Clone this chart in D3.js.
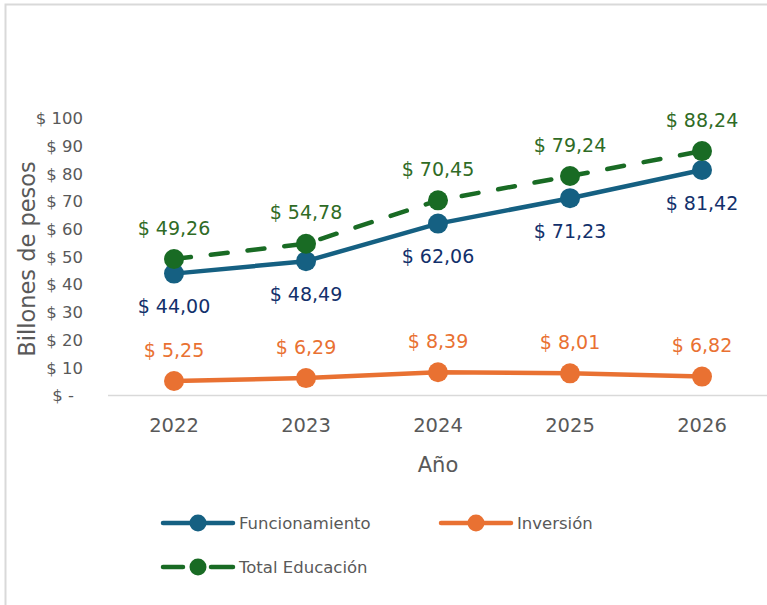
<!DOCTYPE html>
<html>
<head>
<meta charset="utf-8">
<script src="https://cdn.jsdelivr.net/npm/d3@7"></script>
<style>
  body { margin: 0; background: #fff; }
  text { font-family: "DejaVu Sans", sans-serif; }
</style>
</head>
<body>
<div id="chart"></div>
<script>
let years          = ['2022', '2023', '2024', '2025', '2026'];
let funcionamiento = [44.00, 48.49, 62.06, 71.23, 81.42];
let inversion      = [5.25, 6.29, 8.39, 8.01, 6.82];
let total          = [49.26, 54.78, 70.45, 79.24, 88.24];
let yTicks         = [0, 10, 20, 30, 40, 50, 60, 70, 80, 90, 100];

let w = 767, h = 605;
let svg = d3.select('#chart').append('svg').attr('width', w).attr('height', h);

// chart frame
svg.append('rect').attr('x', 5.5).attr('y', 4.5).attr('width', w + 10).attr('height', h + 10)
  .attr('fill', 'none').attr('stroke', '#d9d9d9').attr('stroke-width', 2);

let x = d3.scaleBand().domain(years).range([108, 768]);
let y = d3.scaleLinear().domain([0, 100]).range([395.5, 118.5]);
let cx = d => x(d) + x.bandwidth() / 2;

let fmt = v => '$ ' + v.toFixed(2).replace('.', ',');

// axis baseline
svg.append('line').attr('x1', 108).attr('x2', 768).attr('y1', y(0)).attr('y2', y(0))
  .attr('stroke', '#d9d9d9').attr('stroke-width', 1.5);

// y tick labels
svg.append('g').selectAll('text').data(yTicks).join('text')
  .attr('x', d => d === 0 ? 74 : 83)
  .attr('y', d => y(d))
  .attr('dy', '0.35em')
  .attr('text-anchor', 'end')
  .attr('font-size', 16.5)
  .attr('fill', '#595959')
  .text(d => d === 0 ? '$ -' : '$ ' + d);

// x tick labels
svg.append('g').selectAll('text').data(years).join('text')
  .attr('x', cx).attr('y', 425).attr('dy', '0.35em')
  .attr('text-anchor', 'middle').attr('font-size', 19.5).attr('fill', '#595959')
  .text(d => d);

// axis titles
svg.append('text').attr('x', 438).attr('y', 465).attr('dy', '0.35em')
  .attr('text-anchor', 'middle').attr('font-size', 21).attr('fill', '#595959').text('Año');
svg.append('text').attr('transform', 'translate(27,259) rotate(-90)').attr('dy', '0.35em')
  .attr('text-anchor', 'middle').attr('font-size', 22.5).attr('fill', '#595959').text('Billones de pesos');

let series = [
  {name: 'Funcionamiento', values: funcionamiento, color: '#156082', label: '#12306b', dash: null, off: 33},
  {name: 'Inversión', values: inversion, color: '#e97132', label: '#e97132', dash: null, off: -31},
  {name: 'Total Educación', values: total, color: '#196b24', label: '#2f6b25', dash: '17,20', off: -31}
];

let line = d3.line().x((d, i) => cx(years[i])).y(d => y(d));

series.forEach(s => {
  let g = svg.append('g');
  g.append('path').attr('d', line(s.values))
    .attr('fill', 'none').attr('stroke', s.color).attr('stroke-width', 4.5)
    .attr('stroke-linecap', 'round').attr('stroke-linejoin', 'round')
    .attr('stroke-dasharray', s.dash);
  g.selectAll('circle').data(s.values).join('circle')
    .attr('cx', (d, i) => cx(years[i])).attr('cy', d => y(d)).attr('r', 10)
    .attr('fill', s.color);
  g.selectAll('text').data(s.values).join('text')
    .attr('x', (d, i) => cx(years[i])).attr('y', d => y(d) + s.off).attr('dy', '0.35em')
    .attr('text-anchor', 'middle').attr('font-size', 19).attr('fill', s.label)
    .text(fmt);
});

// legend
let legend = [
  {s: series[0], x: 163, y: 523},
  {s: series[1], x: 441, y: 523},
  {s: series[2], x: 163, y: 567}
];
legend.forEach(l => {
  let g = svg.append('g');
  g.append('line').attr('x1', l.x).attr('x2', l.x + 70).attr('y1', l.y).attr('y2', l.y)
    .attr('stroke', l.s.color).attr('stroke-width', 4.5).attr('stroke-linecap', 'round')
    .attr('stroke-dasharray', l.s.dash ? '20,28,30' : null);
  g.append('circle').attr('cx', l.x + 35).attr('cy', l.y).attr('r', 8.5).attr('fill', l.s.color);
  g.append('text').attr('x', l.x + 76).attr('y', l.y).attr('dy', '0.35em')
    .attr('font-size', 16.5).attr('fill', '#595959').text(l.s.name);
});
</script>
</body>
</html>
